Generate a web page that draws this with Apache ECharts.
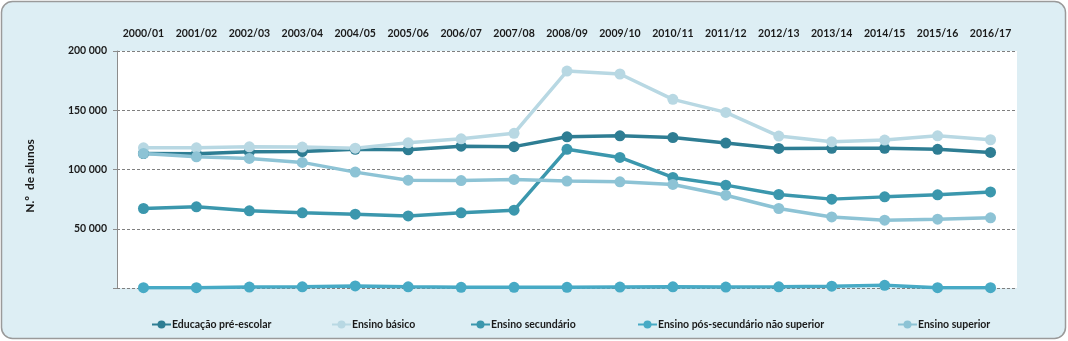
<!DOCTYPE html>
<html>
<head>
<meta charset="utf-8">
<script src="https://cdn.jsdelivr.net/npm/echarts@6/dist/echarts.min.js"></script>
<style>
  html, body { margin: 0; padding: 0; background: #ffffff; }
  #chart { width: 1068px; height: 341px; }
</style>
</head>
<body>
<div id="chart"></div>
<script>
// School years
const anos = ['2000/01','2001/02','2002/03','2003/04','2004/05','2005/06','2006/07','2007/08','2008/09',
  '2009/10','2010/11','2011/12','2012/13','2013/14','2014/15','2015/16','2016/17'];

// Number of students per level of education
const preEscolar = [113500,113200,114900,115200,117000,116600,119700,119300,127600,128400,127000,122300,117800,117900,117900,117000,114400];
const basico = [118300,118300,119100,118900,118000,122500,125900,130500,183100,180600,159200,148200,128200,123400,124800,128400,125100];
const secundario = [67100,68500,65100,63400,62300,60800,63400,65700,117000,110200,93300,86800,78900,75000,76900,78600,81100];
const posSecundario = [300,300,800,1000,1700,1000,600,600,600,800,1000,800,1000,1500,2300,300,300];
const superior = [113600,110700,109300,106000,97800,91000,90700,91600,90200,89600,87400,78300,67100,60000,57200,58100,59200];

const nomes = ['Educação pré-escolar','Ensino básico','Ensino secundário','Ensino pós-secundário não superior','Ensino superior'];
const valores = [preEscolar, basico, secundario, posSecundario, superior];
const cores = ['#2E7D93','#B8D8E3','#3B97AD','#47AAC5','#8DC3D5'];

// y-axis ticks
const yMin = 0, yMax = 200000, yStep = 50000;

const FONT = 'Lato, "Open Sans", sans-serif';

function milhares(v) {
  if (v === 0) return '';
  return String(v).replace(/\B(?=(\d{3})+(?!\d))/g, ' ');
}

const legendLeft = [146, 326, 465, 632, 892];

const chart = echarts.init(document.getElementById('chart'), null, { renderer: 'canvas' });
chart.setOption({
  animation: false,
  backgroundColor: 'transparent',
  graphic: [{
    type: 'rect', z: -10, silent: true,
    shape: { x: 1.5, y: 1.5, width: 1064, height: 337, r: 11 },
    style: { fill: '#DDEEF4', stroke: '#9A9A9A', lineWidth: 1.5 }
  }, {
    type: 'text', silent: true,
    rotation: Math.PI / 2,
    x: 30, y: 176,
    style: { text: 'N.º  de alunos', font: 'bold 12px ' + FONT, fill: '#1a1a1a', align: 'center', verticalAlign: 'middle' }
  }],
  grid: {
    left: 117, right: 51, top: 51, bottom: 53,
    show: true, backgroundColor: '#ffffff', borderWidth: 0
  },
  legend: nomes.map((n, i) => ({
    data: [n],
    left: legendLeft[i], top: 314,
    itemWidth: 19, itemHeight: 10, itemGap: 0,
    textStyle: { fontFamily: FONT, fontWeight: 'bold', fontSize: 10.5, color: '#1a1a1a', padding: [0, 0, 0, -4] }
  })),
  xAxis: {
    type: 'category', position: 'top', data: anos, boundaryGap: true,
    axisLine: { show: false }, axisTick: { show: false },
    axisLabel: { fontFamily: FONT, fontWeight: 'bold', fontSize: 10.5, color: '#1a1a1a', margin: 12, interval: 0 }
  },
  yAxis: {
    type: 'value', min: yMin, max: yMax, interval: yStep,
    axisLine: { show: true, lineStyle: { color: '#8C8C8C', width: 1 } },
    axisTick: { show: true, length: 4, lineStyle: { color: '#8C8C8C' } },
    splitLine: { show: true, lineStyle: { color: '#7F7F7F', type: [3, 2], width: 1 } },
    axisLabel: { fontFamily: FONT, fontWeight: 'bold', fontSize: 10.5, color: '#1a1a1a', margin: 10, formatter: milhares }
  },
  series: nomes.map((n, i) => ({
    name: n, type: 'line', data: valores[i],
    symbol: 'circle', symbolSize: 11,
    lineStyle: { color: cores[i], width: 3.5 },
    itemStyle: { color: cores[i] }
  }))
});
</script>
</body>
</html>
